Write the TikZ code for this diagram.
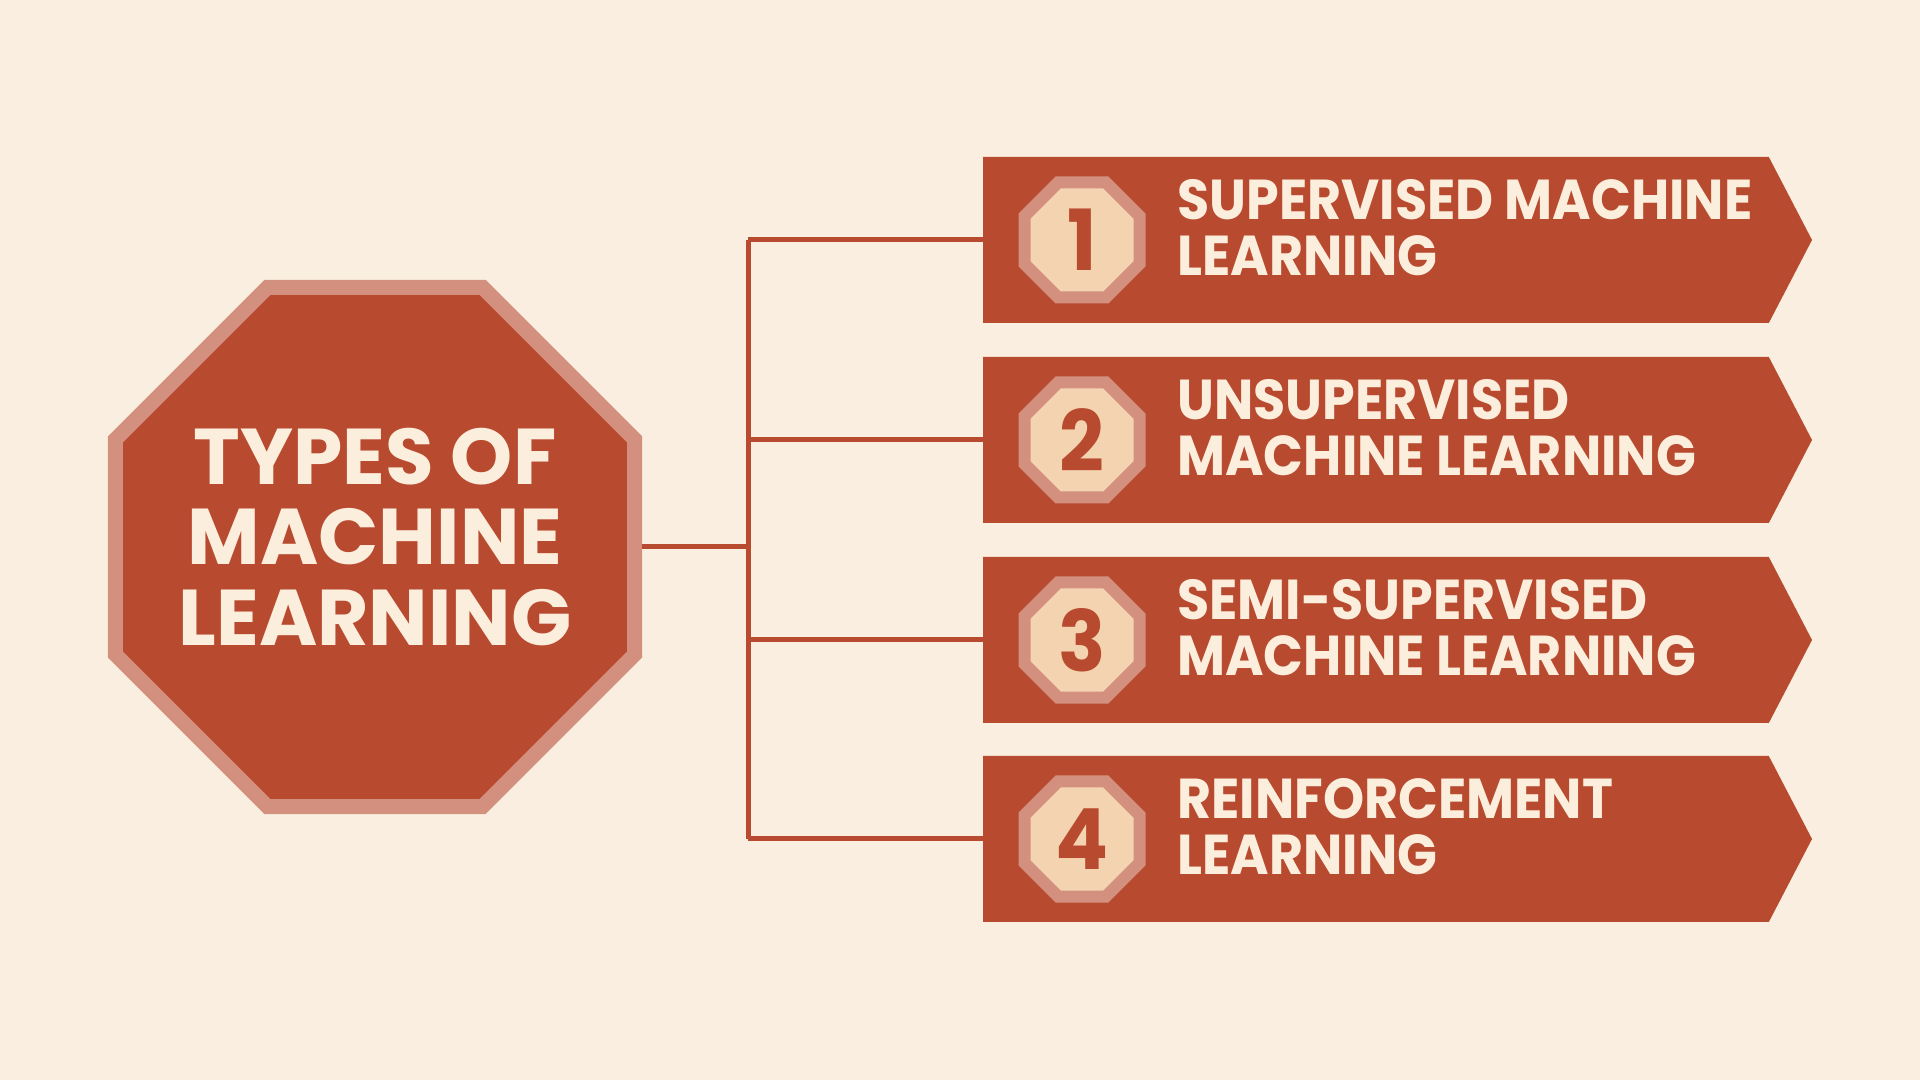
\documentclass[tikz,border=0pt]{standalone}
\usepackage{fontspec}
\setmainfont{Poppins}
\newfontfamily\bannerfont{Poppins}[FakeStretch=0.93]
\usepackage{tikz}
\usetikzlibrary{shapes.geometric,shapes.symbols}

\definecolor{bgcream}{HTML}{F9EEDF}
\definecolor{rust}{HTML}{B84A2F}
\definecolor{rosy}{HTML}{D4907F}
\definecolor{peach}{HTML}{F4D4B0}
\definecolor{paper}{HTML}{FCEEDD}

\begin{document}
\begin{tikzpicture}
		\tikzset{octabox/.style={regular polygon,regular polygon sides=8,inner sep=0pt,outer sep=0pt},
			titleoct/.style={octabox,minimum size=5.62cm,fill=rust,draw=rosy,line width=0.15cm,outer sep=0.075cm},
			badgeoct/.style={octabox,minimum size=1.245cm,fill=peach,draw=rosy,line width=0.12cm,text=rust,font=\bannerfont\bfseries\fontsize{24}{24}\selectfont},
			bannerbox/.style={signal,signal to=east,signal from=nowhere,signal pointer angle=125,minimum width=8.29cm,minimum height=1.66cm,inner sep=0pt,outer sep=0pt,fill=rust},
			bannertext/.style={anchor=west,align=left,text=paper,font=\bannerfont\bfseries\fontsize{16}{16}\selectfont},
			linkline/.style={draw=rust,line width=0.05cm}};
		\fill[bgcream] (0,0) rectangle (19.2,10.8);
		\useasboundingbox (0,0) rectangle (19.2,10.8);
		% left octagon
		\node[titleoct] (title) at (3.75,5.33) {};
		\node[align=center,text=paper,font=\bfseries\fontsize{22.5}{22.8}\selectfont] (titletext) at (3.75,5.43) {TYPES OF\\MACHINE\\LEARNING};
		\coordinate (hub) at (7.48,5.33);
		\draw[linkline] (title.east) -- (hub);
		% banners
		\foreach \i/\y/\txt in {1/8.40/{SUPERVISED MACHINE\\LEARNING},2/6.40/{UNSUPERVISED\\MACHINE LEARNING},3/4.40/{SEMI-SUPERVISED\\MACHINE LEARNING},4/2.41/{REINFORCEMENT\\LEARNING}}{
			\node[bannerbox,anchor=west] (b\i) at (9.83,\y) {};
			\coordinate (j\i) at (7.48,\y);
			\draw[linkline] (j\i) -- (b\i.west);
			\node[badgeoct] (n\i) at (10.82,\y) {\i};
			\node[bannertext] (t\i) at (11.65,\y+0.12) {\txt};
		}
		\draw[linkline] (j1) -- (j4);
	\end{tikzpicture}
\end{document}
